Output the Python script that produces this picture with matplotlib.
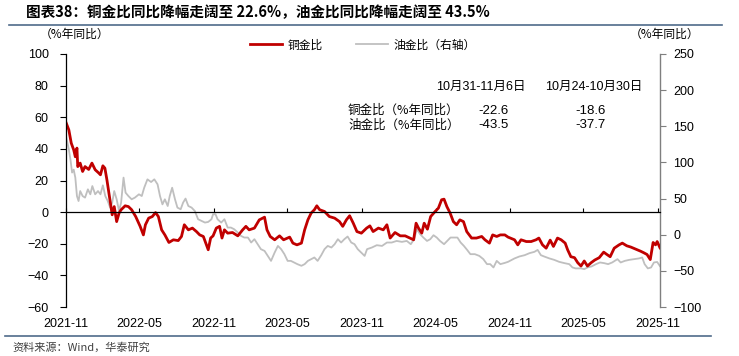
import matplotlib
matplotlib.use('Agg')
import matplotlib.pyplot as plt
import matplotlib.dates as mdates
from matplotlib.lines import Line2D
import pandas as pd

# --- Datos ---
cu_dates = [
    "2021-11-01", "2021-11-08", "2021-11-14", "2021-11-20", "2021-11-24", "2021-11-28", "2021-11-30",
    "2021-12-06", "2021-12-12", "2021-12-18", "2021-12-27", "2022-01-04", "2022-01-12", "2022-01-21",
    "2022-01-25", "2022-01-31", "2022-02-05", "2022-02-10", "2022-02-15", "2022-02-20", "2022-02-23",
    "2022-02-28", "2022-03-06", "2022-03-12", "2022-03-17", "2022-03-27", "2022-04-04", "2022-04-12",
    "2022-04-22", "2022-05-03", "2022-05-11", "2022-05-16", "2022-05-24", "2022-06-02", "2022-06-10",
    "2022-06-17", "2022-06-25", "2022-07-03", "2022-07-13", "2022-07-24", "2022-08-05", "2022-08-13",
    "2022-08-20", "2022-08-30", "2022-09-09", "2022-09-19", "2022-09-27", "2022-10-06", "2022-10-18",
    "2022-10-24", "2022-10-30", "2022-11-07", "2022-11-15", "2022-11-21", "2022-11-27", "2022-12-05",
    "2022-12-17", "2022-12-30", "2023-01-11", "2023-01-19", "2023-01-27", "2023-02-09", "2023-02-21",
    "2023-03-06", "2023-03-12", "2023-03-20", "2023-03-31", "2023-04-12", "2023-04-22", "2023-05-07",
    "2023-05-15", "2023-05-25", "2023-06-05", "2023-06-13", "2023-06-21", "2023-06-29", "2023-07-07",
    "2023-07-13", "2023-07-20", "2023-08-01", "2023-08-13", "2023-08-26", "2023-09-07", "2023-09-15",
    "2023-09-24", "2023-10-02", "2023-10-11", "2023-10-20", "2023-10-31", "2023-11-13", "2023-11-21",
    "2023-11-29", "2023-12-12", "2023-12-24", "2024-01-02", "2024-01-10", "2024-01-22", "2024-02-04",
    "2024-02-16", "2024-02-28", "2024-03-08", "2024-03-14", "2024-03-20", "2024-03-28", "2024-04-03",
    "2024-04-11", "2024-04-19", "2024-04-30", "2024-05-08", "2024-05-16", "2024-05-22", "2024-05-29",
    "2024-06-06", "2024-06-14", "2024-06-22", "2024-06-30", "2024-07-09", "2024-07-17", "2024-07-29",
    "2024-08-10", "2024-08-23", "2024-08-31", "2024-09-11", "2024-09-19", "2024-09-29", "2024-10-08",
    "2024-10-19", "2024-10-27", "2024-11-12", "2024-11-20", "2024-11-28", "2024-12-11", "2024-12-23",
    "2025-01-04", "2025-01-11", "2025-01-20", "2025-01-29", "2025-02-08", "2025-02-16", "2025-02-26",
    "2025-03-07", "2025-03-17", "2025-03-23", "2025-03-31", "2025-04-09", "2025-04-17", "2025-04-25",
    "2025-05-03", "2025-05-11", "2025-05-20", "2025-05-29", "2025-06-09", "2025-06-20", "2025-06-28",
    "2025-07-06", "2025-07-16", "2025-07-28", "2025-08-05", "2025-08-16", "2025-08-26", "2025-09-07",
    "2025-09-19", "2025-09-27", "2025-10-05", "2025-10-13", "2025-10-20", "2025-10-26", "2025-10-30",
    "2025-11-06",
]
cu_gold_yoy = [
    56.7, 52, 43.6, 39.4, 35, 40.5, 28.8,
    31, 25.7, 28.8, 27, 31, 26.8, 24.7,
    23.6, 29.3, 27.8, 20.4, 12, 3.5, -1.7,
    3.5, -6, -0.6, 1.5, 4, 3.5, 1.5,
    -2.8, -9, -14.4, -8, -3.8, -2.8, -0.3,
    -2.8, -11.2, -14.4, -19.2, -17.5, -18, -15.4,
    -8, -11.2, -10.1, -12.3, -14.4, -15.4, -23.8,
    -16.4, -15, -10.1, -9, -16.4, -11.2, -13.3,
    -12.9, -15, -11.2, -9, -11.2, -10.1, -4.9,
    -3.2, -11.2, -15.4, -17.5, -15, -17.5, -15.8,
    -19.6, -20.7, -19.6, -11.2, -4.9, -0.6, 1.5,
    4, 1.5, 0.4, -2.8, -3.8, -6, -9,
    -4.9, -2.3, -7, -12.3, -13.3, -10.1, -8.7,
    -12.3, -10.1, -11.2, -8, -16.4, -12.9, -15,
    -15, -16.4, -17.5, -7, -10.1, -13.3, -7,
    -10.8, -2.8, 0.4, 2.5, 7.8, 8.2, 3.5,
    -0.6, -6, -8, -4.9, -6, -12.3, -16.4,
    -16.4, -15.4, -17.5, -19.6, -14.4, -15.4, -14.4,
    -14.4, -15.8, -17.5, -20.7, -17.5, -18.6, -18.6,
    -17.5, -16.4, -20.7, -22.8, -17.7, -21.7, -16.4,
    -17.5, -19.6, -23.8, -28.2, -28.8, -32, -34.1,
    -30.9, -34.1, -32, -30.3, -28.8, -25.3, -26.8,
    -28.2, -22.8, -20.7, -19.6, -21.3, -22.1, -23.4,
    -24.7, -25.7, -26.8, -30, -19.2, -20.7, -18.6,
    -22.6,
]

oil_dates = [
    "2021-11-01", "2021-11-08", "2021-11-12", "2021-11-16", "2021-11-20", "2021-11-24", "2021-11-28",
    "2021-12-02", "2021-12-06", "2021-12-12", "2021-12-18", "2021-12-25", "2021-12-31", "2022-01-05",
    "2022-01-12", "2022-01-19", "2022-01-25", "2022-01-31", "2022-02-06", "2022-02-12", "2022-02-18",
    "2022-02-23", "2022-02-28", "2022-03-06", "2022-03-12", "2022-03-17", "2022-03-23", "2022-03-28",
    "2022-04-04", "2022-04-12", "2022-04-20", "2022-04-30", "2022-05-07", "2022-05-13", "2022-05-21",
    "2022-05-30", "2022-06-07", "2022-06-15", "2022-06-21", "2022-06-27", "2022-07-03", "2022-07-10",
    "2022-07-15", "2022-07-21", "2022-07-28", "2022-08-03", "2022-08-11", "2022-08-17", "2022-08-23",
    "2022-08-30", "2022-09-07", "2022-09-15", "2022-09-23", "2022-10-02", "2022-10-10", "2022-10-18",
    "2022-10-26", "2022-10-30", "2022-11-05", "2022-11-10", "2022-11-19", "2022-11-27", "2022-12-05",
    "2022-12-13", "2022-12-21", "2022-12-30", "2023-01-07", "2023-01-15", "2023-01-24", "2023-02-01",
    "2023-02-09", "2023-02-17", "2023-02-25", "2023-03-06", "2023-03-14", "2023-03-22", "2023-03-31",
    "2023-04-08", "2023-04-16", "2023-04-24", "2023-05-02", "2023-05-10", "2023-05-18", "2023-05-26",
    "2023-06-05", "2023-06-13", "2023-06-21", "2023-06-29", "2023-07-07", "2023-07-15", "2023-07-24",
    "2023-08-01", "2023-08-09", "2023-08-18", "2023-08-26", "2023-09-03", "2023-09-11", "2023-09-19",
    "2023-09-27", "2023-10-06", "2023-10-14", "2023-10-22", "2023-10-31", "2023-11-08", "2023-11-14",
    "2023-11-26", "2023-12-08", "2023-12-21", "2024-01-02", "2024-01-14", "2024-01-26", "2024-02-08",
    "2024-02-20", "2024-03-01", "2024-03-09", "2024-03-16", "2024-03-24", "2024-04-01", "2024-04-10",
    "2024-04-18", "2024-04-26", "2024-05-04", "2024-05-12", "2024-05-22", "2024-05-30", "2024-06-07",
    "2024-06-15", "2024-06-24", "2024-07-02", "2024-07-10", "2024-07-18", "2024-07-26", "2024-08-06",
    "2024-08-17", "2024-08-27", "2024-09-05", "2024-09-13", "2024-09-21", "2024-09-29", "2024-10-08",
    "2024-10-19", "2024-10-27", "2024-11-12", "2024-11-24", "2024-12-07", "2024-12-19", "2024-12-31",
    "2025-01-08", "2025-01-16", "2025-01-24", "2025-02-06", "2025-02-18", "2025-03-02", "2025-03-15",
    "2025-03-27", "2025-04-04", "2025-04-12", "2025-04-25", "2025-05-03", "2025-05-11", "2025-05-21",
    "2025-06-01", "2025-06-11", "2025-06-21", "2025-07-01", "2025-07-11", "2025-07-24", "2025-08-01",
    "2025-08-11", "2025-08-22", "2025-09-03", "2025-09-15", "2025-09-23", "2025-09-29", "2025-10-07",
    "2025-10-15", "2025-10-22", "2025-10-30", "2025-11-06",
]
oil_gold_yoy = [
    136, 118, 104, 86, 90, 79, 53.5,
    46.6, 60.4, 53.5, 51.3, 62.8, 55.9, 67.3,
    55.9, 60.4, 55.9, 68.3, 53.5, 46.6, 37.5,
    44.4, 60.4, 49, 32.8, 44.4, 79, 58.2,
    53.5, 49, 51.3, 55.9, 53.5, 65, 76.6,
    72.9, 76.6, 69.7, 53.5, 42, 49, 39.7,
    53.5, 65, 49, 37.5, 35.2, 44.4, 50,
    39.7, 37.5, 32.8, 21.4, 19, 16.8, 17.7,
    21.4, 28.3, 28.3, 21.4, 16.8, 21.4, 9.9,
    9.9, 7.6, 3, -1.7, -3.9, -3.9, -10.8,
    -6.2, -13.1, -20, -22.4, -29.3, -36.2, -24.6,
    -15.5, -20, -26.9, -36.2, -36.2, -38.4, -40.7,
    -43, -40.7, -36.2, -33.8, -31.5, -36.2, -28.3,
    -20, -15.5, -17.7, -13.1, -6.2, -10.8, -6.2,
    -2.5, -10.8, -13.1, -20, -25, -29.3, -20,
    -17.7, -14.5, -15.5, -10.8, -10.8, -8.6, -9.9,
    -8.6, -13.1, -6.2, 7.6, 0.7, -3.9, -8.6,
    -6.2, -0.7, -3.9, -8.6, -13.1, -8.6, -3.9,
    -3.9, -3.9, -10.8, -15.5, -21, -26.9, -26.9,
    -29.3, -33.8, -40.7, -40.7, -45.3, -36.2, -40.7,
    -39, -37.5, -32.8, -30.1, -28.3, -25.5, -23.7,
    -21, -28.3, -30.1, -32.8, -34.8, -37.5, -39.3,
    -40.7, -45.3, -46.6, -46.6, -47.6, -45.3, -43.9,
    -40.7, -38.4, -39.3, -40.7, -38.4, -33.8, -38.4,
    -36.2, -34.8, -33.8, -32.8, -31.5, -40.7, -46.6,
    -45.3, -38.4, -37.7, -43.5,
]

# tabla del recuadro
table_headers = ["10月31-11月6日", "10月24-10月30日"]
table_rows = ["铜金比（%年同比）", "油金比（%年同比）"]
table_values = [["-22.6", "-18.6"], ["-43.5", "-37.7"]]

title = "图表38：铜金比同比降幅走阔至 22.6%，油金比同比降幅走阔至 43.5%"
source = "资料来源：Wind，华泰研究"

RED = '#C00000'
GREY = '#BFBFBF'
CJK = ['Noto Sans CJK SC', 'DejaVu Sans']
NUM = ['Liberation Sans', 'Noto Sans CJK SC']

W, H = 739, 356


def fx(px):
    return px / W


def fy(py):
    return 1 - py / H


fig = plt.figure(figsize=(W / 100, H / 100), dpi=100)
ax = fig.add_axes([fx(66), fy(307), 594 / W, 253 / H])
ax2 = ax.twinx()
ax.set_zorder(2)
ax2.set_zorder(1)
ax.patch.set_visible(False)

cu_x = pd.to_datetime(cu_dates)
oil_x = pd.to_datetime(oil_dates)
l2, = ax2.plot(oil_x, oil_gold_yoy, color=GREY, lw=1.3, label='油金比（右轴）')
l1, = ax.plot(cu_x, cu_gold_yoy, color=RED, lw=2.0, label='铜金比')

ax.set_xlim(pd.Timestamp('2021-11-01'), pd.Timestamp('2025-11-06'))
ax.set_ylim(-60, 100)
ax.set_yticks(range(-60, 101, 20))
ax2.set_ylim(-100, 250)
ax2.set_yticks(range(-100, 251, 50))

# eje x pegado al cero, etiquetas abajo (vía el eje gemelo)
ax.spines['bottom'].set_position(('data', 0))
ax.spines['bottom'].set_linewidth(0.9)
for s in ['top', 'right']:
    ax.spines[s].set_visible(False)
ax.spines['left'].set_linewidth(0.9)
for s in ['top', 'left', 'bottom']:
    ax2.spines[s].set_visible(False)
ax2.spines['right'].set_color('#7F7F7F')
ax2.spines['right'].set_linewidth(1.0)

loc = mdates.MonthLocator(bymonth=[5, 11])
fmt = mdates.DateFormatter('%Y-%m')
ax.xaxis.set_major_locator(loc)
ax.xaxis.set_major_formatter(fmt)
ax.tick_params(axis='x', direction='in', length=3, width=0.8, labelbottom=False)
ax2.xaxis.set_visible(True)
ax2.tick_params(axis='x', length=0, pad=8, labelsize=9)
ax.tick_params(axis='y', length=4, width=0.8, pad=8.5, labelsize=9)
ax2.tick_params(axis='y', length=4, width=0.8, pad=5.5, labelsize=9, color='#7F7F7F')
for lab in ax.get_yticklabels() + ax2.get_yticklabels() + ax2.get_xticklabels():
    lab.set_fontfamily(NUM)

# título y líneas de encabezado / pie
fig.text(fx(26), fy(12), title, fontsize=10.5, fontweight='bold', family=CJK,
         ha='left', va='center')
fig.add_artist(Line2D([fx(9), fx(722)], [fy(25), fy(25)], color='#4F6B8A', lw=1.2))
fig.add_artist(Line2D([fx(5), fx(711)], [fy(336), fy(336)], color='#4F6B8A', lw=1.2))
fig.text(fx(12), fy(347), source, fontsize=8, family=CJK, color='#404040',
         ha='left', va='center')

# unidades
fig.text(fx(40), fy(34), '（%年同比）', fontsize=8.5, family=CJK, ha='left', va='center')
fig.text(fx(630), fy(34), '（%年同比）', fontsize=8.5, family=CJK, ha='left', va='center')

# leyenda
fig.legend([l1, l2], [l1.get_label(), l2.get_label()], loc='center',
           bbox_to_anchor=(fx(363), fy(45)), ncol=2, frameon=False,
           handlelength=2.7, handletextpad=0.5, columnspacing=2.8,
           prop={'family': CJK, 'size': 8.5})

# recuadro con los últimos valores
head_x = [481, 594]
val_x = [478, 575]
for hx, h in zip(head_x, table_headers):
    fig.text(fx(hx), fy(87), h, fontsize=9, family=NUM, ha='center', va='center')
for i, (row, vals) in enumerate(zip(table_rows, table_values)):
    yy = 110.5 + i * 15
    fig.text(fx(348), fy(yy), row, fontsize=9, family=CJK, ha='left', va='center')
    for vx, v in zip(val_x, vals):
        fig.text(fx(vx), fy(yy), v, fontsize=9.5, family=NUM, ha='left', va='center')

fig.savefig('out.png', dpi=100)
